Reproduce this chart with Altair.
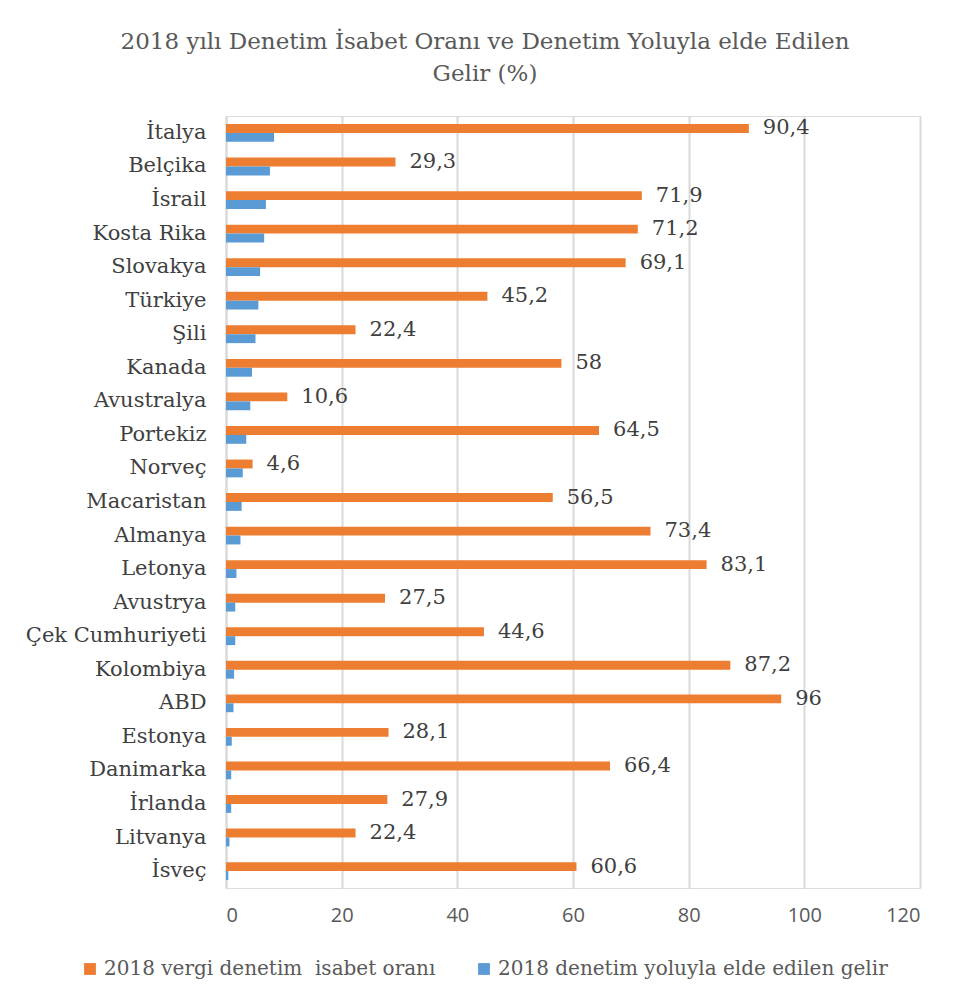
import altair as alt
import pandas as pd

countries = ["İtalya", "Belçika", "İsrail", "Kosta Rika", "Slovakya", "Türkiye", "Şili",
             "Kanada", "Avustralya", "Portekiz", "Norveç", "Macaristan", "Almanya",
             "Letonya", "Avustrya", "Çek Cumhuriyeti", "Kolombiya", "ABD", "Estonya",
             "Danimarka", "İrlanda", "Litvanya", "İsveç"]
isabet = [90.4, 29.3, 71.9, 71.2, 69.1, 45.2, 22.4, 58, 10.6, 64.5, 4.6, 56.5, 73.4,
          83.1, 27.5, 44.6, 87.2, 96, 28.1, 66.4, 27.9, 22.4, 60.6]
gelir = [8.3, 7.6, 6.9, 6.6, 5.9, 5.6, 5.1, 4.5, 4.2, 3.5, 2.9, 2.7, 2.5,
         1.8, 1.6, 1.6, 1.4, 1.3, 1.0, 0.9, 0.9, 0.6, 0.4]
series = ["2018 vergi denetim\u00a0\u00a0isabet oranı", "2018 denetim yoluyla elde edilen gelir"]
colors = ["#ED7D31", "#5B9BD5"]
x_ticks = [0, 20, 40, 60, 80, 100, 120]

rows = []
for c, a, b in zip(countries, isabet, gelir):
    rows.append({"country": c, "series": series[0], "value": a,
                 "label": f"{a:g}".replace(".", ",")})
    rows.append({"country": c, "series": series[1], "value": b, "label": ""})
df = pd.DataFrame(rows)

serif = "DejaVu Serif"
y = alt.Y("country:N", sort=countries, title=None,
          scale=alt.Scale(paddingInner=0.47, paddingOuter=0.24),
          axis=alt.Axis(labelFont=serif, labelFontSize=21, labelColor="#404040",
                        labelPadding=20, ticks=False, domainColor="#d9d9d9",
                        domainWidth=2, grid=False, labelLimit=300))
yoff = alt.YOffset("series:N", sort=series, scale=alt.Scale(domain=series, paddingInner=0))
x = alt.X("value:Q", title=None,
          scale=alt.Scale(domain=[0, 120], nice=False),
          axis=alt.Axis(values=x_ticks, labelFont="Open Sans", labelFontSize=20,
                        labelColor="#595959", labelPadding=17, ticks=False, domain=False,
                        gridColor="#d9d9d9", gridWidth=2))

bars = alt.Chart(df).mark_bar().encode(
    y=y, yOffset=yoff, x=x,
    color=alt.Color("series:N", sort=series,
                    scale=alt.Scale(domain=series, range=colors),
                    legend=alt.Legend(title=None, orient="none", direction="horizontal",
                                      legendX=-146, legendY=843, symbolType="square",
                                      symbolSize=140, symbolStrokeWidth=0,
                                      labelFont=serif, labelFontSize=20,
                                      labelColor="#595959", columnPadding=38,
                                      labelLimit=500)),
)

labels = alt.Chart(df).transform_filter(alt.datum.series == series[0]).mark_text(
    align="left", baseline="middle", dx=14, font=serif, fontSize=21, color="#404040"
).encode(y=y, yOffset=yoff, x=x, text="label:N")

chart = (bars + labels).properties(
    width=694, height=772,
    title=alt.Title(["2018 yılı Denetim İsabet Oranı ve Denetim Yoluyla elde Edilen",
                     "Gelir (%)"],
                    font=serif, fontSize=23, fontWeight="normal", color="#595959",
                    anchor="middle", dx=-88, offset=30, lineHeight=32),
    autosize=alt.AutoSizeParams(type="none"),
    padding={"left": 226, "top": 116, "right": 36, "bottom": 119},
).configure_view(stroke=None).configure(background="white")

chart.save("out.html", embed_options={"renderer": "svg", "actions": False})
